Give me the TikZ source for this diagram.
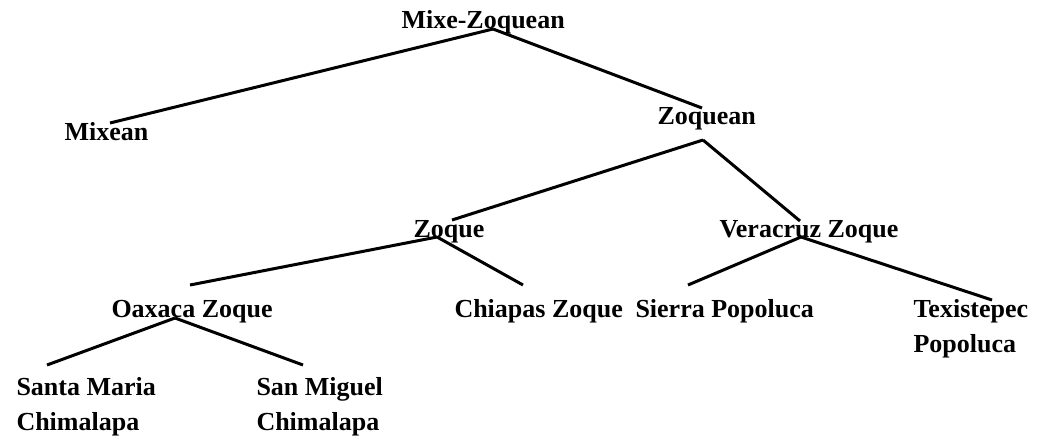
\documentclass[tikz,border=0pt]{standalone}
\usepackage{fontspec}
\setmainfont{Liberation Serif}
\usetikzlibrary{positioning}

\begin{document}
\begin{tikzpicture}[x=1pt,y=-1pt,line width=3pt,
    lang/.style={inner sep=0pt,anchor=base west,align=left,
      font=\fontsize{26}{35}\selectfont\bfseries}]
  \useasboundingbox (0,0) rectangle (1040,437);
  \node[lang](mz) at (400,28) {Mixe-Zoquean};
  \node[lang](mixean) at (63,140) {Mixean};
  \node[lang](zoquean) at (656,124) {Zoquean};
  \node[lang](zoque) at (412,237) {Zoque};
  \node[lang](vz) at (718,237) {Veracruz Zoque};
  \node[lang](oz) at (110,317) {Oaxaca Zoque};
  \node[lang](cz) at (453,317) {Chiapas Zoque};
  \node[lang](sp) at (634,317) {Sierra Popoluca};
  \node[lang](tp) at (912,352) {Texistepec\\Popoluca};
  \node[lang](smaria) at (15,430) {Santa Maria\\Chimalapa};
  \node[lang](smiguel) at (255,430) {San Miguel\\Chimalapa};
  \coordinate (mz-d) at (493,29);
  \coordinate (mixean-u) at (110,123);
  \coordinate (zoquean-u) at (702,108);
  \coordinate (zoquean-d) at (703,140);
  \coordinate (zoque-u) at (452,220);
  \coordinate (zoque-d) at (437,237);
  \coordinate (vz-u) at (800,221);
  \coordinate (vz-d) at (801,237);
  \coordinate (oz-u) at (190,285);
  \coordinate (oz-d) at (175,318);
  \coordinate (cz-u) at (523,285);
  \coordinate (sp-u) at (688,285);
  \coordinate (tp-u) at (992,300);
  \coordinate (smaria-u) at (47,365);
  \coordinate (smiguel-u) at (303,365);
  \draw (mz-d)--(mixean-u);
  \draw (mz-d)--(zoquean-u);
  \draw (zoquean-d)--(zoque-u);
  \draw (zoquean-d)--(vz-u);
  \draw (zoque-d)--(oz-u);
  \draw (zoque-d)--(cz-u);
  \draw (vz-d)--(sp-u);
  \draw (vz-d)--(tp-u);
  \draw (oz-d)--(smaria-u);
  \draw (oz-d)--(smiguel-u);
\end{tikzpicture}
\end{document}
